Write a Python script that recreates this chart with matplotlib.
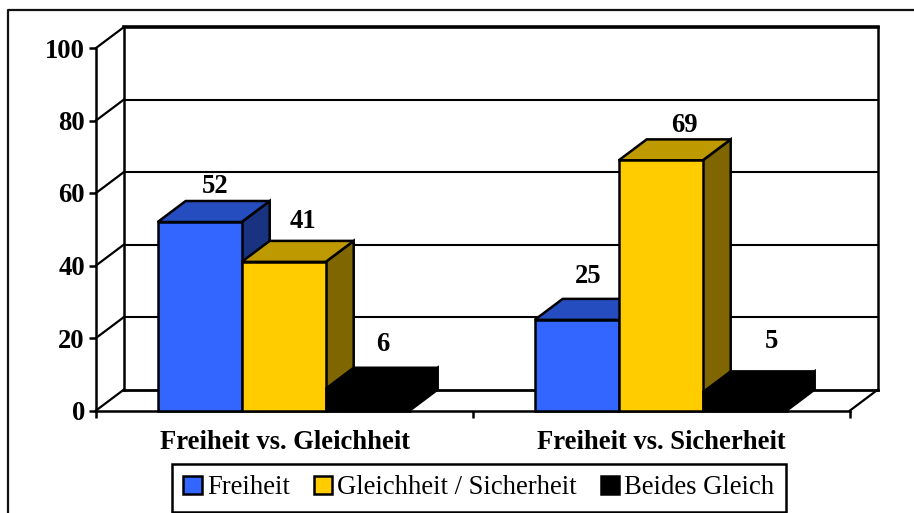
import matplotlib
matplotlib.use('Agg')
import matplotlib.pyplot as plt
from matplotlib.lines import Line2D
from matplotlib.patches import Patch, Polygon

# values
categories = ['Freiheit vs. Gleichheit', 'Freiheit vs. Sicherheit']
series_names = ['Freiheit', 'Gleichheit / Sicherheit', 'Beides Gleich']
freiheit = [52, 25]
gleichheit = [41, 69]
beides = [6, 5]
series_values = [freiheit, gleichheit, beides]
y_ticks = [0, 20, 40, 60, 80, 100]

# front, top, side shades for each series
front_colors = ['#3366FF', '#FFCC00', '#000000']
top_colors = ['#264DBF', '#BF9900', '#000000']
side_colors = ['#1A3380', '#806600', '#000000']

# the value labels were placed by hand in the original: pixel offsets per series, per category
label_dx = [[1.5, -3], [5, 9.5], [1, 13]]
label_dy = [[8, 16], [13, 7], [17, 23]]

W, H = 914, 513
FS = 19.2
plt.rcParams['font.family'] = ['Liberation Serif', 'DejaVu Serif']

fig = plt.figure(figsize=(W / 100, H / 100), dpi=100)
# front plane of the box, in pixels
left, right, top, bottom = 96, 850, 48, 410.5
ax = fig.add_axes([left / W, 1 - bottom / H, (right - left) / W, (bottom - top) / H])
ax.set_xlim(0, 2)
ax.set_ylim(0, 100)
ax.patch.set_visible(False)

# depth of the 3D effect in data units
dx = 28 / 377
dy = 21 / 3.625
bar_w = 84 / 377
margin = (1 - 3 * bar_w) / 2 - 0.8 / 377
LW = 1.8

# walls and gridlines
for v in y_ticks:
    lw = 2.6 if v == 100 else (2.0 if v == 0 else 1.5)
    ax.plot([dx, 2 + dx], [v + dy, v + dy], color='black', lw=lw, clip_on=False, zorder=1)
    ax.plot([0, dx], [v, v + dy], color='black', lw=1.6, clip_on=False, zorder=1)
ax.plot([dx, dx], [0 + dy, 100 + dy], color='black', lw=LW, clip_on=False, zorder=1)
ax.plot([2 + dx, 2 + dx], [0 + dy, 100 + dy], color='black', lw=LW, clip_on=False, zorder=1)
ax.plot([2, 2 + dx], [0, dy], color='black', lw=1.6, clip_on=False, zorder=1)

# bars, left to right so that each one covers the side of the one before
z = 3
for c in range(len(categories)):
    for s, values in enumerate(series_values):
        v = values[c]
        x0 = c + margin + s * bar_w
        x1 = x0 + bar_w
        faces = [
            ([(x1, 0), (x1 + dx, dy), (x1 + dx, v + dy), (x1, v)], side_colors[s]),
            ([(x0, v), (x1, v), (x1 + dx, v + dy), (x0 + dx, v + dy)], top_colors[s]),
            ([(x0, 0), (x1, 0), (x1, v), (x0, v)], front_colors[s]),
        ]
        for pts, col in faces:
            ax.add_patch(Polygon(pts, closed=True, facecolor=col, edgecolor='black',
                                 lw=LW, joinstyle='miter', clip_on=False, zorder=z))
            z += 1
        ax.annotate(str(v), xy=(x0 + bar_w / 2 + dx / 2, v + dy),
                    xytext=(label_dx[s][c] * 0.72, label_dy[s][c] * 0.72),
                    textcoords='offset points', ha='center', va='baseline',
                    fontsize=FS, fontweight='bold', zorder=50)

# axes
for name in ['top', 'right']:
    ax.spines[name].set_visible(False)
for name in ['left', 'bottom']:
    ax.spines[name].set_linewidth(LW)
    ax.spines[name].set_zorder(2.5)
ax.set_yticks(y_ticks)
ax.set_yticklabels([str(v) for v in y_ticks], fontsize=FS, fontweight='bold')
ax.set_xticks([0, 1, 2])
ax.set_xticklabels([])
ax.set_xticks([0.5, 1.5], minor=True)
ax.set_xticklabels(categories, minor=True, fontsize=FS, fontweight='bold')
ax.tick_params(axis='both', which='major', length=5, width=LW, pad=3)
ax.tick_params(axis='x', which='minor', length=0, pad=14)

handles = [Patch(facecolor=front_colors[i], edgecolor='black', lw=LW) for i in range(3)]
leg = fig.legend(handles, series_names, ncol=3, loc='center',
                 bbox_to_anchor=(479 / W, 1 - 488 / H), fontsize=FS,
                 fancybox=False, framealpha=1, edgecolor='black',
                 handlelength=0.68, handleheight=0.68, handletextpad=0.2,
                 columnspacing=0.9, borderpad=0.42, borderaxespad=0)
leg.get_frame().set_linewidth(LW)

# outer frame runs off the right and bottom of the picture
fig.add_artist(Line2D([8 / W, 8 / W, 1], [0, 1 - 9.5 / H, 1 - 9.5 / H], color='#111111', lw=1.6))

fig.savefig('out.png', dpi=100)
